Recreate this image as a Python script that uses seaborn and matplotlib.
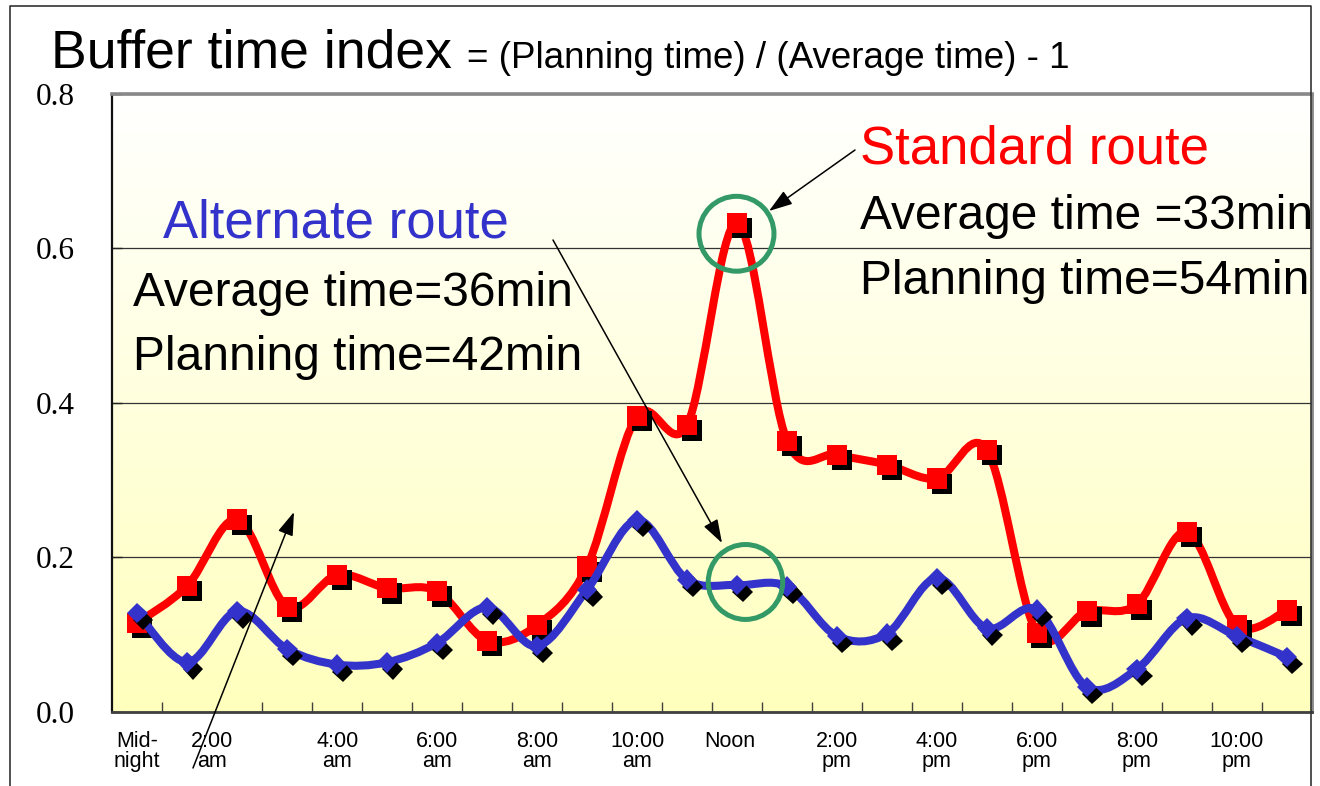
import numpy as np
import pandas as pd
import matplotlib
matplotlib.use("Agg")
import matplotlib.pyplot as plt
import matplotlib.patheffects as pe
from matplotlib.path import Path
from matplotlib.patches import PathPatch, Ellipse
from matplotlib.lines import Line2D
from matplotlib.colors import LinearSegmentedColormap
import seaborn as sns

# ---- data: buffer time index by hour of day ----
hours = list(range(24))
standard_route = [0.115, 0.163, 0.249, 0.136, 0.177, 0.160, 0.156, 0.092,
                  0.112, 0.188, 0.383, 0.371, 0.633, 0.351, 0.333, 0.320,
                  0.302, 0.339, 0.102, 0.130, 0.139, 0.233, 0.112, 0.131]
alternate_route = [0.128, 0.064, 0.130, 0.081, 0.061, 0.064, 0.089, 0.135,
                   0.085, 0.158, 0.248, 0.171, 0.164, 0.162, 0.098, 0.101,
                   0.173, 0.108, 0.132, 0.032, 0.055, 0.121, 0.098, 0.071]
tick_hours = [0, 1.5, 4, 6, 8, 10, 11.85, 14, 16, 18, 20, 22]
tick_labels = ["Mid-\nnight", "2:00\nam", "4:00\nam", "6:00\nam", "8:00\nam",
               "10:00\nam", "Noon", "2:00\npm", "4:00\npm", "6:00\npm",
               "8:00\npm", "10:00\npm"]
y_ticks = [0.0, 0.2, 0.4, 0.6, 0.8]

RED = "#FF0000"
BLUE = "#3333CC"
GREEN = "#339966"

sns.set_style("white")
plt.rcParams["font.family"] = ["Liberation Sans", "DejaVu Sans"]
for key in ["text.color", "axes.labelcolor", "xtick.color", "ytick.color"]:
    plt.rcParams[key] = "black"

W, H = 1320, 786
fig = plt.figure(figsize=(W / 100, H / 100), dpi=100)
fig.patch.set_facecolor("white")


def fx(px):
    return px / W


def fy(py):
    return 1 - py / H


ax = fig.add_axes([fx(112.3), fy(711.7), 1199.4 / W, 617.7 / H])

# soft white-to-yellow background of the plotting area
grad = np.linspace(0, 1, 256).reshape(-1, 1)
bg_cmap = LinearSegmentedColormap.from_list("bg", ["#FFFFFF", "#FFFFBD"])
ax.imshow(grad, cmap=bg_cmap, extent=[0, 1, 0, 1], transform=ax.transAxes,
          aspect="auto", origin="upper", zorder=-1, interpolation="bilinear")


def smooth_path(xs, ys):
    """Cubic Bezier path through the points (smoothed line)."""
    p = np.column_stack([xs, ys]).astype(float)
    ext = np.vstack([p[0], p, p[-1]])
    verts = [p[0]]
    codes = [Path.MOVETO]
    for i in range(len(p) - 1):
        p0, p1, p2, p3 = ext[i], ext[i + 1], ext[i + 2], ext[i + 3]
        verts += [p1 + (p2 - p0) / 6, p2 - (p3 - p1) / 6, p2]
        codes += [Path.CURVE4] * 3
    return Path(verts, codes)


df = pd.DataFrame({"hour": hours,
                   "Standard route": standard_route,
                   "Alternate route": alternate_route})

series = [("Standard route", RED, "s", 14.5, (3.4, -3.8), 3),
          ("Alternate route", BLUE, "D", 10.5, (4.0, -5.0), 5)]
for name, col, mk, ms, off, z in series:
    ax.add_patch(PathPatch(smooth_path(df["hour"], df[name]), fill=False,
                           edgecolor=col, lw=5.8, capstyle="round",
                           joinstyle="round", zorder=z))
    sns.lineplot(data=df, x="hour", y=name, ax=ax, color=col, marker=mk,
                 markersize=ms, markeredgewidth=0, linestyle="none",
                 errorbar=None, zorder=z + 1,
                 path_effects=[pe.SimplePatchShadow(offset=off,
                                                    shadow_rgbFace="black",
                                                    alpha=1.0),
                               pe.Normal()])

ax.set_xlim(-0.5, 23.5)
ax.set_ylim(0, 0.8)
ax.set_xlabel("")
ax.set_ylabel("")

# axes, ticks and grid
ax.set_yticks(y_ticks)
ax.set_yticklabels([f"{v:.1f}" for v in y_ticks], fontfamily="Liberation Serif",
                   fontsize=22.5)
ax.tick_params(axis="y", direction="in", length=7, width=1, color="#222222",
               pad=27, left=True)
ax.yaxis.grid(True, color="#333333", lw=0.9)
ax.xaxis.grid(False)
ax.set_axisbelow(True)

ax.set_xticks(tick_hours)
ax.set_xticklabels(tick_labels, fontsize=15.5, linespacing=0.92)
ax.set_xticks(np.arange(0.5, 23.5, 1), minor=True)
ax.tick_params(axis="x", which="major", length=0, pad=14)
ax.tick_params(axis="x", which="minor", direction="in", length=7, width=1,
               color="#404040", bottom=True)

for side, col, lw in [("left", "#111111", 1.6), ("bottom", "#404040", 2.0),
                      ("top", "#888888", 2.6), ("right", "#888888", 2.0)]:
    ax.spines[side].set_visible(True)
    ax.spines[side].set_color(col)
    ax.spines[side].set_linewidth(lw)

# highlight circles
ax.add_patch(Ellipse((11.99, 0.619), 1.5, 0.097, fill=False, edgecolor=GREEN,
                     lw=3.6, zorder=8))
ax.add_patch(Ellipse((12.17, 0.168), 1.49, 0.097, fill=False, edgecolor=GREEN,
                     lw=3.6, zorder=8))

# outer frame
frame = Line2D([fx(10), fx(10), fx(1311), fx(1311)],
               [fy(786), fy(5.7), fy(5.7), fy(786)],
               transform=fig.transFigure, color="#333333", lw=1.2)
fig.add_artist(frame)

# title
fig.text(fx(51), fy(68), "Buffer time index", fontsize=38.5, va="baseline",
         ha="left", color="black")
fig.text(fx(467), fy(68), "= (Planning time) / (Average time) - 1",
         fontsize=26.5, va="baseline", ha="left", color="black")

# route annotations
notes = [
    (860, 163, "Standard route", RED, 38),
    (860, 229, "Average time =33min", "black", 34.5),
    (860, 294, "Planning time=54min", "black", 34.5),
    (163, 238, "Alternate route", BLUE, 38),
    (133, 306, "Average time=36min", "black", 34.5),
    (133, 370, "Planning time=42min", "black", 34.5),
]
for x, y, s, col, size in notes:
    t = ax.text(fx(x), fy(y), s, transform=fig.transFigure, color=col,
                fontsize=size, va="baseline", ha="left", zorder=9)
    t.set_clip_box(ax.bbox)

arrow_kw = dict(arrowstyle="-|>,head_length=0.6,head_width=0.2", color="black",
                lw=1.1, mutation_scale=24, shrinkA=0, shrinkB=0)
for tail, head in [((855, 150), (769, 211)),
                   ((553, 240), (722, 543)),
                   ((193, 768), (294, 512))]:
    ax.annotate("", xy=(fx(head[0]), fy(head[1])),
                xytext=(fx(tail[0]), fy(tail[1])),
                xycoords="figure fraction", textcoords="figure fraction",
                arrowprops=arrow_kw, annotation_clip=False, zorder=10)

fig.savefig("out.png", dpi=100, facecolor="white")
